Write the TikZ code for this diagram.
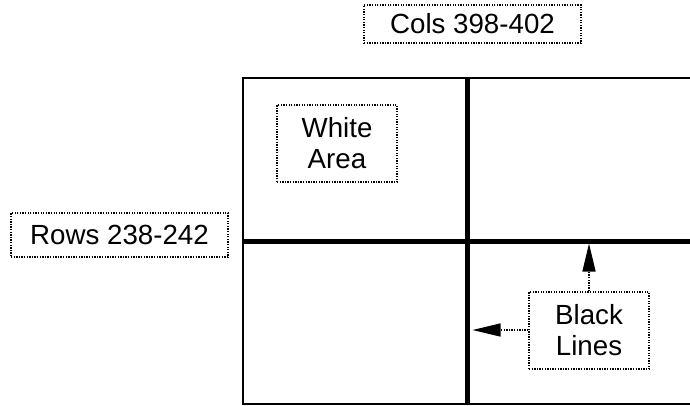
\documentclass[tikz,border=0pt]{standalone}
\usepackage{fontspec}
\setmainfont{Liberation Sans}
\usetikzlibrary{arrows.meta}
\begin{document}
\begin{tikzpicture}[x=1pt,y=-1pt,
  lbl/.style={draw=black, line width=1.4pt, dash pattern=on 1.3pt off 1.3pt,
    inner sep=0pt, align=center, font=\fontsize{27.7}{31}\selectfont},
  thick line/.style={line width=5pt},
  ptr/.style={line width=1.4pt, dash pattern=on 1.3pt off 1.3pt,
    -{Triangle[length=28pt,width=13pt]}}]
\useasboundingbox (0,0) rectangle (690,405);
\clip (0,0) rectangle (690,405);
\fill[white] (0,0) rectangle (690,405);
% frame
\draw[line width=2pt] (242.5,78) rectangle (720,404);
% black lines
\coordinate (vtop) at (467,78);
\coordinate (vbot) at (467,405);
\coordinate (hl) at (244,241);
\coordinate (hr) at (700,241);
\draw[thick line] (vtop) -- (vbot);
\draw[thick line] (hl) -- (hr);
% labels
\node[lbl, minimum width=217pt, minimum height=38pt] (cols) at (472.5,24) {Cols 398-402};
\node[lbl, minimum width=217pt, minimum height=44pt] (rows) at (119.5,235) {Rows 238-242};
\node[lbl, minimum width=120pt, minimum height=77pt] (white) at (337,143.5) {White\\Area};
\node[lbl, minimum width=120pt, minimum height=77pt] (black) at (589,330.5) {Black\\Lines};
% pointers
\coordinate (uptip) at (589,243.5);
\coordinate (lefttip) at (472.5,330);
\draw[ptr] (black.north) -- (uptip);
\draw[ptr] (black.west |- lefttip) -- (lefttip);
\end{tikzpicture}
\end{document}
